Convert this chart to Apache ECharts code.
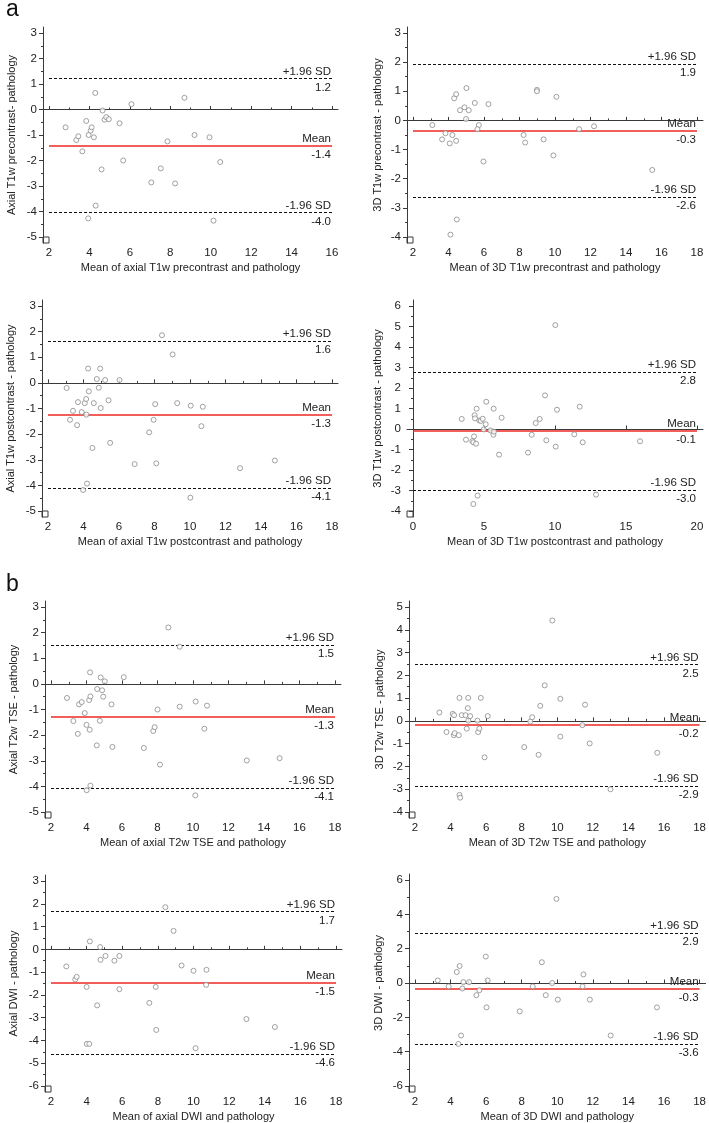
<!DOCTYPE html>
<html><head><meta charset="utf-8">
<script src="https://cdn.jsdelivr.net/npm/echarts@6/dist/echarts.min.js"></script>
<style>html,body{margin:0;padding:0;background:#fff}#c{width:709px;height:1123px}</style>
</head><body><div id="c"></div>
<script>
// ---------- DATA ----------
const axialT1Pre = [[2.82,-0.70],[3.35,-1.20],[3.45,-1.05],[3.65,-1.64],[3.84,-0.45],[3.96,-1.00],[4.06,-0.83],[4.11,-0.70],[4.22,-1.09],[4.29,0.65],[4.31,-3.77],[3.94,-4.27],[4.60,-2.35],[4.65,-0.04],[4.75,-0.40],[4.83,-0.30],[4.96,-0.38],[5.49,-0.54],[5.67,-2.00],[6.08,0.21],[7.06,-2.86],[7.53,-2.31],[7.86,-1.25],[8.24,-2.90],[8.70,0.46],[9.20,-1.00],[9.94,-1.09],[10.14,-4.36],[10.47,-2.06]];
const axialT1PreLimits = [1.22,-1.41,-4.04];
const axialT1PreLabels = ['1.2','-1.4','-4.0'];

const threeDT1Pre = [[3.09,-0.16],[3.64,-0.65],[3.83,-0.44],[4.07,-0.79],[4.22,-0.50],[4.32,0.76],[4.43,0.90],[4.43,-0.70],[4.47,-3.40],[4.11,-3.92],[4.65,0.35],[4.90,0.45],[5.01,1.11],[4.99,0.05],[5.14,0.35],[5.48,0.60],[5.71,-0.16],[5.63,-0.30],[5.97,-1.41],[6.25,0.56],[8.23,-0.50],[8.32,-0.76],[8.98,1.05],[8.98,1.00],[9.36,-0.65],[9.91,-1.20],[10.08,0.81],[11.36,-0.30],[12.20,-0.20],[15.48,-1.70]];
const threeDT1PreLimits = [1.94,-0.34,-2.62];
const threeDT1PreLabels = ['1.9','-0.3','-2.6'];

const axialT1Post = [[3.05,-0.20],[3.24,-1.44],[3.41,-1.09],[3.64,-1.65],[3.69,-0.75],[3.90,-1.14],[3.98,-4.18],[4.07,-0.79],[4.15,-0.63],[4.16,-1.24],[4.20,-3.93],[4.26,0.56],[4.30,-0.33],[4.50,-2.54],[4.58,-0.79],[4.75,0.15],[4.86,-0.19],[4.94,0.56],[4.97,-0.98],[5.22,0.11],[5.41,-0.68],[5.50,-2.34],[6.03,0.11],[6.88,-3.17],[7.70,-1.93],[7.95,-1.44],[8.04,-0.83],[8.10,-3.14],[8.42,1.86],[9.02,1.11],[9.28,-0.79],[10.02,-4.48],[10.04,-0.89],[10.64,-1.69],[10.72,-0.93],[12.82,-3.33],[14.78,-3.03]];
const axialT1PostLimits = [1.63,-1.26,-4.11];
const axialT1PostLabels = ['1.6','-1.3','-4.1'];

const threeDT1Post = [[3.43,0.49],[3.73,-0.52],[4.18,-0.59],[4.25,-0.65],[4.30,-0.36],[4.34,0.67],[4.37,0.52],[4.44,-0.72],[4.48,0.99],[4.25,-3.66],[4.55,-3.25],[4.67,0.42],[4.77,0.39],[4.91,0.50],[4.98,-0.02],[5.12,0.23],[5.16,1.33],[5.45,-0.07],[5.66,-0.28],[5.70,-0.13],[5.68,0.99],[6.06,-1.25],[6.24,0.55],[8.10,-1.15],[8.36,-0.28],[8.64,0.29],[8.92,0.49],[9.30,1.64],[9.39,-0.55],[10.02,5.07],[10.05,-0.86],[10.14,0.94],[11.36,-0.26],[11.74,1.09],[11.95,-0.65],[12.89,-3.20],[15.99,-0.60]];
const threeDT1PostLimits = [2.78,-0.09,-2.97];
const threeDT1PostLabels = ['2.8','-0.1','-3.0'];

const axialT2 = [[2.90,-0.55],[3.26,-1.45],[3.51,-1.95],[3.58,-0.80],[3.73,-0.71],[3.90,-1.14],[4.00,-1.60],[4.01,-4.15],[4.15,-0.63],[4.18,-1.79],[4.20,0.45],[4.22,-0.49],[4.22,-3.97],[4.58,-2.40],[4.60,-0.20],[4.75,-1.44],[4.80,0.25],[4.88,-0.25],[4.94,-0.50],[5.03,0.10],[5.41,-0.80],[5.46,-2.46],[6.10,0.26],[7.23,-2.50],[7.76,-1.84],[7.84,-1.69],[8.00,-1.00],[8.14,-3.15],[8.61,2.20],[9.25,1.45],[9.25,-0.89],[10.13,-4.35],[10.15,-0.69],[10.64,-1.75],[10.79,-0.85],[13.03,-2.99],[14.88,-2.90]];
const axialT2Limits = [1.52,-1.27,-4.06];
const axialT2Labels = ['1.5','-1.3','-4.1'];

const threeDT2 = [[3.37,0.37],[3.77,-0.49],[4.12,0.31],[4.20,0.25],[4.18,-0.63],[4.23,-0.54],[4.46,-0.63],[4.50,1.01],[4.50,-3.25],[4.54,-3.37],[4.63,0.25],[4.84,0.25],[4.91,-0.34],[4.97,0.56],[4.99,1.01],[5.00,0.01],[5.10,0.21],[5.51,0.01],[5.55,-0.49],[5.62,-0.34],[5.70,1.01],[5.91,-1.60],[6.09,0.21],[8.14,-1.15],[8.48,-0.03],[8.59,0.16],[8.95,-1.49],[9.04,0.66],[9.29,1.56],[9.72,4.41],[10.17,0.97],[10.17,-0.69],[11.41,-0.19],[11.56,0.71],[11.82,-0.99],[12.99,-3.00],[15.62,-1.40]];
const threeDT2Limits = [2.48,-0.19,-2.86];
const threeDT2Labels = ['2.5','-0.2','-2.9'];

const axialDWI = [[2.86,-0.75],[3.36,-1.32],[3.44,-1.21],[4.00,-1.65],[4.01,-4.15],[4.15,-4.15],[4.18,0.35],[4.59,-2.46],[4.76,0.10],[4.78,-0.46],[5.06,-0.29],[5.56,-0.50],[5.84,-0.29],[5.84,-1.75],[7.52,-2.35],[7.88,-1.65],[7.91,-3.54],[8.42,1.85],[8.88,0.81],[9.33,-0.71],[10.00,-0.94],[10.12,-4.34],[10.73,-0.90],[10.71,-1.56],[12.97,-3.06],[14.57,-3.41]];
const axialDWILimits = [1.66,-1.47,-4.60];
const axialDWILabels = ['1.7','-1.5','-4.6'];

const threeDDWI = [[3.28,0.15],[3.89,-0.20],[4.35,0.64],[4.51,0.99],[4.59,-3.06],[4.44,-3.55],[4.66,-0.32],[4.72,0.05],[5.04,0.05],[5.45,-0.71],[5.62,-0.42],[5.98,1.54],[6.02,-1.42],[6.09,0.15],[7.89,-1.65],[8.62,-0.20],[9.13,1.21],[9.35,-0.71],[9.71,0.00],[9.95,4.90],[10.03,-0.97],[11.42,-0.20],[11.47,0.50],[11.83,-0.97],[13.00,-3.06],[15.60,-1.42]];
const threeDDWILimits = [2.91,-0.32,-3.55];
const threeDDWILabels = ['2.9','-0.3','-3.6'];

const limitNames = ['+1.96 SD','Mean','-1.96 SD'];

// ticks: [first, last, major step, minor step]
const panels = [
  {pts:axialT1Pre, lim:axialT1PreLimits, lab:axialT1PreLabels, xName:'Mean of axial T1w precontrast and pathology', yName:'Axial T1w precontrast- pathology', xt:[2,16,2,1], yt:[-5,3,1,0.5], g:[43,27,295,216], yGap:26},
  {pts:threeDT1Pre, lim:threeDT1PreLimits, lab:threeDT1PreLabels, xName:'Mean of 3D T1w precontrast and pathology', yName:'3D T1w precontrast - pathology', xt:[2,18,2,1], yt:[-4,3,1,0.5], g:[407,27,296,216], yGap:24},
  {pts:axialT1Post, lim:axialT1PostLimits, lab:axialT1PostLabels, xName:'Mean of axial T1w postcontrast and pathology', yName:'Axial T1w postcontrast - pathology', xt:[2,18,2,1], yt:[-5,3,1,0.5], g:[42,300,296,217], yGap:26},
  {pts:threeDT1Post, lim:threeDT1PostLimits, lab:threeDT1PostLabels, xName:'Mean of 3D T1w postcontrast and pathology', yName:'3D T1w postcontrast - pathology', xt:[0,20,5,5], yt:[-4,6,1,0.5], g:[407,300,296,217], yGap:24},
  {pts:axialT2, lim:axialT2Limits, lab:axialT2Labels, xName:'Mean of axial T2w TSE and pathology', yName:'Axial T2w TSE - pathology', xt:[2,18,2,1], yt:[-5,3,1,0.5], g:[45,601,296,217], yGap:26},
  {pts:threeDT2, lim:threeDT2Limits, lab:threeDT2Labels, xName:'Mean of 3D T2w TSE and pathology', yName:'3D T2w TSE - pathology', xt:[2,18,2,1], yt:[-4,5,1,0.5], g:[409,601,297,217], yGap:24},
  {pts:axialDWI, lim:axialDWILimits, lab:axialDWILabels, xName:'Mean of axial DWI and pathology', yName:'Axial DWI - pathology', xt:[2,18,2,1], yt:[-6,3,1,0.5], g:[45,875,297,217], yGap:26},
  {pts:threeDDWI, lim:threeDDWILimits, lab:threeDDWILabels, xName:'Mean of 3D DWI and pathology', yName:'3D DWI - pathology', xt:[2,18,2,1], yt:[-6,6,2,1], g:[409,874,297,218], yGap:25}
];

// ---------- BUILD ----------
const FONT = 'Liberation Sans, Arial, Helvetica, sans-serif';
const PAD = 6;
const AX = '#3a3a3a';
function seq(a,b,s){const r=[];for(let v=a;v<=b+1e-9;v+=s)r.push(+v.toFixed(4));return r;}
function minors(t){const maj=seq(t[0],t[1],t[2]);return seq(t[0],t[1],t[3]).filter(v=>!maj.some(m=>Math.abs(m-v)<1e-6));}

const grid=[], xAxis=[], yAxis=[], series=[];
panels.forEach((p,i)=>{
  const [L,T,W,H]=p.g;
  grid.push({left:L,top:T,width:W,height:H,containLabel:false});
  const xt=p.xt, yt=p.yt;
  const xu=PAD*(xt[1]-xt[0])/(W-2*PAD), yu=PAD*(yt[1]-yt[0])/(H-2*PAD);
  const xmin=xt[0]-xu, xmax=xt[1]+xu, ymin=yt[0]-yu, ymax=yt[1]+yu;
  const nameStyle={color:'#222',fontSize:11,fontFamily:FONT};
  xAxis.push({type:'value',gridIndex:i,min:xmin,max:xmax,position:'bottom',
    name:p.xName,nameLocation:'middle',nameGap:19,nameTextStyle:nameStyle,
    axisLine:{show:true,lineStyle:{color:AX,width:1}},
    axisTick:{show:true,inside:true,customValues:seq(xt[0],xt[1],xt[2]),length:3.5,lineStyle:{color:AX}},
    axisLabel:{show:true,customValues:seq(xt[0],xt[1],xt[2]),margin:4,color:'#222',fontSize:11.5,fontFamily:FONT},
    splitLine:{show:false}});
  xAxis.push({type:'value',gridIndex:i,min:xmin,max:xmax,position:'bottom',offset:0,
    axisLine:{show:false},axisTick:{show:true,inside:true,customValues:minors(xt),length:2,lineStyle:{color:AX}},
    axisLabel:{show:false},splitLine:{show:false}});
  yAxis.push({type:'value',gridIndex:i,min:ymin,max:ymax,position:'left',
    name:p.yName,nameLocation:'middle',nameGap:p.yGap,nameTextStyle:nameStyle,
    axisLine:{show:true,lineStyle:{color:AX,width:1}},
    axisTick:{show:true,customValues:seq(yt[0],yt[1],yt[2]),length:4,lineStyle:{color:AX}},
    axisLabel:{show:true,customValues:seq(yt[0],yt[1],yt[2]),margin:6,color:'#222',fontSize:11.5,fontFamily:FONT},
    splitLine:{show:false}});
  yAxis.push({type:'value',gridIndex:i,min:ymin,max:ymax,position:'left',offset:0,
    axisLine:{show:false},axisTick:{show:true,customValues:minors(yt),length:2,lineStyle:{color:AX}},
    axisLabel:{show:false},splitLine:{show:false}});

  const lblStyle={show:true,color:'#222',fontSize:11.5,fontFamily:FONT};
  const mlData=[];
  p.lim.forEach((v,k)=>{
    const isMean = k===1;
    const ls = isMean ? {color:'#ee2a24',width:1.6,type:'solid'} : {color:'#111',width:1,type:[3,2]};
    mlData.push([{coord:[xt[0],v],lineStyle:ls,label:Object.assign({},lblStyle,{position:'insideEndTop',distance:[1,1],formatter:limitNames[k]})},{coord:[xt[1],v]}]);
    mlData.push([{coord:[xt[0],v],lineStyle:{color:'rgba(0,0,0,0)',width:1,type:'solid'},label:Object.assign({},lblStyle,{position:'insideEndBottom',distance:[1,3],formatter:p.lab[k]})},{coord:[xt[1],v]}]);
  });
  series.push({type:'scatter',xAxisIndex:2*i,yAxisIndex:2*i,data:p.pts,symbol:'circle',symbolSize:5,
    itemStyle:{color:'#fff',borderColor:'#8a8a8a',borderWidth:1},z:3,
    markLine:{silent:true,symbol:['none','none'],animation:false,data:mlData,z:2},
    markArea:{silent:true,animation:false,itemStyle:{color:'rgba(0,0,0,0)',borderColor:AX,borderWidth:1},
      data:[[{coord:[xmin,ymin]},{coord:[xt[0],yt[0]]}]]}});
});

const chart=echarts.init(document.getElementById('c'),null,{renderer:'canvas'});
chart.setOption({
  animation:false,
  backgroundColor:'#fff',
  textStyle:{fontFamily:FONT},
  title:[
    {text:'a',left:1,top:-7,textStyle:{fontSize:23,fontWeight:'normal',color:'#111',fontFamily:FONT}},
    {text:'b',left:1,top:568,textStyle:{fontSize:23,fontWeight:'normal',color:'#111',fontFamily:FONT}}
  ],
  grid, xAxis, yAxis, series
});
</script></body></html>
